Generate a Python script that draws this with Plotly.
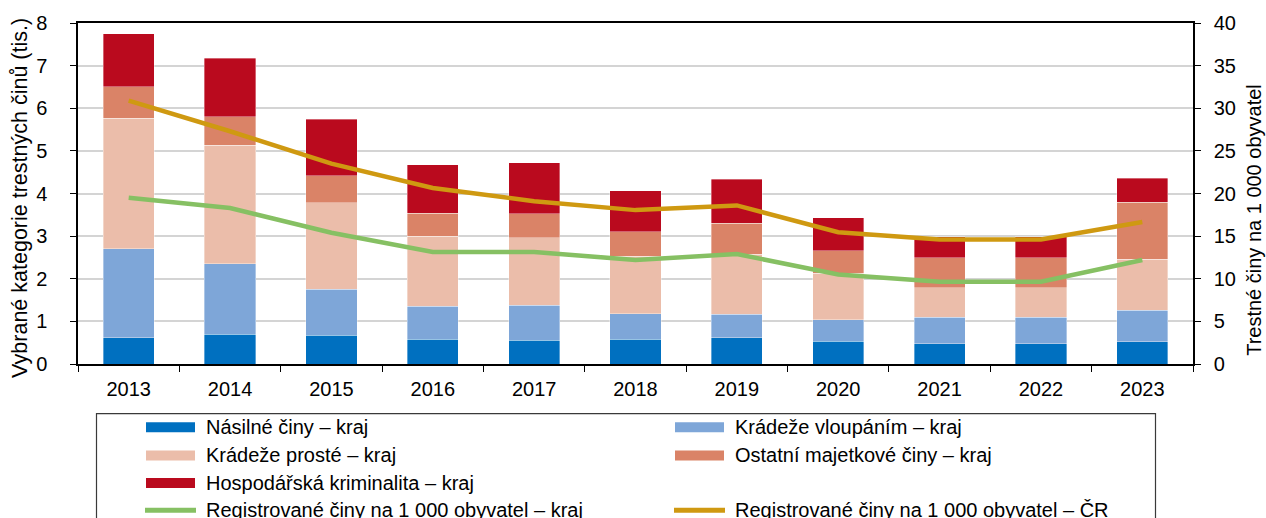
import plotly.graph_objects as go

# Years on the category axis
years = ["2013", "2014", "2015", "2016", "2017", "2018", "2019", "2020", "2021", "2022", "2023"]

# Selected crime categories in the region (thousands)
nasilne = [0.62, 0.70, 0.68, 0.58, 0.56, 0.58, 0.62, 0.53, 0.48, 0.48, 0.52]
vloupani = [2.08, 1.65, 1.07, 0.77, 0.82, 0.60, 0.55, 0.51, 0.62, 0.62, 0.74]
proste = [3.07, 2.78, 2.03, 1.65, 1.58, 1.35, 1.41, 1.09, 0.69, 0.69, 1.20]
ostatni = [0.73, 0.67, 0.64, 0.54, 0.56, 0.57, 0.72, 0.53, 0.70, 0.70, 1.33]
hospodarska = [1.25, 1.37, 1.32, 1.14, 1.20, 0.97, 1.03, 0.77, 0.50, 0.50, 0.57]

# Registered crimes per 1 000 inhabitants
reg_kraj = [19.5, 18.3, 15.4, 13.15, 13.15, 12.2, 12.9, 10.5, 9.65, 9.65, 12.2]
reg_cr = [30.9, 27.3, 23.5, 20.65, 19.1, 18.05, 18.6, 15.45, 14.6, 14.6, 16.65]

bar_names = [
    "Násilné činy – kraj",
    "Krádeže vloupáním – kraj",
    "Krádeže prosté – kraj",
    "Ostatní majetkové činy – kraj",
    "Hospodářská kriminalita – kraj",
]
bar_values = [nasilne, vloupani, proste, ostatni, hospodarska]
bar_colors = ["#0070C0", "#7EA6D8", "#EBBDAA", "#DA8367", "#BA0A1E"]

line_names = [
    "Registrované činy na 1 000 obyvatel – kraj",
    "Registrované činy na 1 000 obyvatel – ČR",
]
line_values = [reg_kraj, reg_cr]
line_colors = ["#86C063", "#CF9911"]

FONT = "Liberation Sans, Arial, sans-serif"
W, H = 1266, 518
PL, PR, PT, PB = 78, 1193, 21, 364  # plot area edges in pixels

fig = go.Figure()

for name, vals, col in zip(bar_names, bar_values, bar_colors):
    fig.add_trace(go.Bar(
        x=years, y=vals, name=name, marker_color=col,
        marker_line=dict(color="rgba(255,255,255,0.6)", width=0.6),
        width=0.505, showlegend=False,
    ))

for name, vals, col in zip(line_names, line_values, line_colors):
    fig.add_trace(go.Scatter(
        x=years, y=vals, name=name, mode="lines", yaxis="y2",
        line=dict(color=col, width=4.5), showlegend=False,
    ))


def px_x(px):
    return (px - PL) / (PR - PL)


def px_y(py):
    return (PB - py) / (PB - PT)


# Legend drawn as a framed box below the chart
shapes = [dict(
    type="rect", xref="paper", yref="paper",
    x0=px_x(96.5), x1=px_x(1155.5), y0=px_y(540), y1=px_y(414),
    line=dict(color="#3a3a3a", width=1.2), fillcolor="rgba(0,0,0,0)",
)]
annotations = []

entries = [(n, c, "bar") for n, c in zip(bar_names, bar_colors)]
entries.insert(5, None)  # empty slot beside the last bar entry
entries += [(n, c, "line") for n, c in zip(line_names, line_colors)]

row_y = [427.7, 456, 483.7, 511]
col_x = [146, 675]
for i, entry in enumerate(entries):
    if entry is None:
        continue
    name, col, kind = entry
    r, c = divmod(i, 2)
    x0 = col_x[c]
    yc = row_y[r]
    if kind == "bar":
        shapes.append(dict(
            type="rect", xref="paper", yref="paper",
            x0=px_x(x0), x1=px_x(x0 + 49), y0=px_y(yc + 5), y1=px_y(yc - 5),
            line=dict(width=0), fillcolor=col,
        ))
    else:
        shapes.append(dict(
            type="line", xref="paper", yref="paper",
            x0=px_x(x0 - 1), x1=px_x(x0 + 50), y0=px_y(yc), y1=px_y(yc),
            line=dict(color=col, width=5),
        ))
    annotations.append(dict(
        text=name, xref="paper", yref="paper",
        x=px_x(x0 + 58), y=px_y(yc), xanchor="left", yanchor="middle",
        showarrow=False, font=dict(family=FONT, size=20, color="#000"),
    ))

# Axis titles placed as rotated annotations
annotations.append(dict(
    text="Vybrané kategorie trestných činů (tis.)", xref="paper", yref="paper",
    x=px_x(20), y=px_y(197), xanchor="center", yanchor="middle",
    textangle=-90, showarrow=False,
    font=dict(family=FONT, size=21.5, color="#000"),
))
annotations.append(dict(
    text="Trestné činy na 1 000 obyvatel", xref="paper", yref="paper",
    x=px_x(1254), y=px_y(219), xanchor="center", yanchor="middle",
    textangle=-90, showarrow=False,
    font=dict(family=FONT, size=20, color="#000"),
))

fig.update_layout(
    width=W, height=H,
    margin=dict(l=PL, r=W - PR, t=PT, b=H - PB, pad=0),
    barmode="stack",
    paper_bgcolor="white", plot_bgcolor="white",
    font=dict(family=FONT, size=20, color="#000"),
    xaxis=dict(
        type="category", showline=True, linecolor="#000", linewidth=1.5,
        mirror=True, ticks="outside", ticklen=6, tickcolor="#000",
        tickson="boundaries", showgrid=False, ticklabelstandoff=6,
        tickfont=dict(family=FONT, size=20, color="#000"),
    ),
    yaxis=dict(
        range=[0, 8], dtick=1, showline=True, linecolor="#000", linewidth=1.5,
        ticks="outside", ticklen=6, tickcolor="#000", ticklabelstandoff=19,
        showgrid=True, gridcolor="#d4d4d4", gridwidth=1.5, zeroline=False,
        tickfont=dict(family=FONT, size=20, color="#000"),
    ),
    yaxis2=dict(
        range=[0, 40], dtick=5, overlaying="y", side="right",
        showline=True, linecolor="#000", linewidth=1.5,
        ticks="outside", ticklen=6, tickcolor="#000", ticklabelstandoff=9,
        showgrid=False, zeroline=False,
        tickfont=dict(family=FONT, size=20, color="#000"),
    ),
    shapes=shapes,
    annotations=annotations,
)

fig.write_html("out.html")
